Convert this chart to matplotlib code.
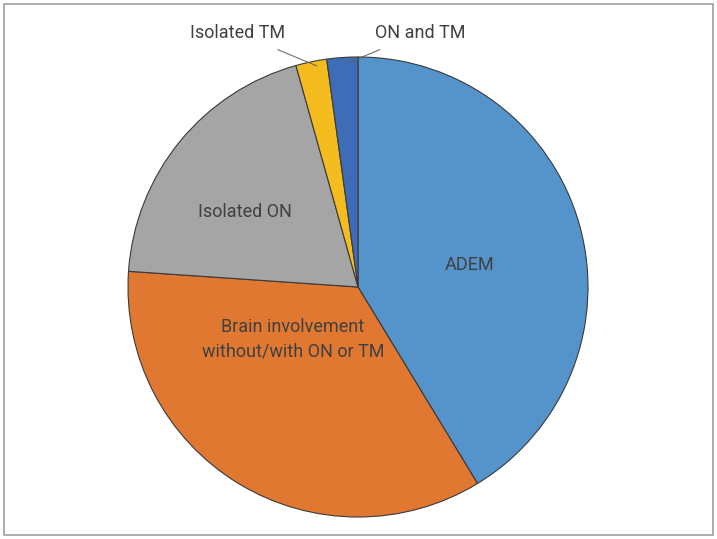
import matplotlib.pyplot as plt
from matplotlib.patches import Rectangle

labels = ['ADEM', 'Brain involvement\nwithout/with ON or TM', 'Isolated ON',
          'Isolated TM', 'ON and TM']
counts = [19, 16, 9, 1, 1]
colors = ['#5593CB', '#E07832', '#A5A5A5', '#F4BC1E', '#3E6CB6']

plt.rcParams['font.family'] = ['Roboto', 'DejaVu Sans']

fig = plt.figure(figsize=(7.17, 5.39), dpi=100)
ax = fig.add_axes([0, 0, 1, 1])

# outer frame
ax.add_patch(Rectangle((3.5, 4.5), 709, 531, fill=False, edgecolor='#A0A0A0', lw=1.2))

cx, cy, r = 358, 252, 230
wedges, _ = ax.pie(counts, colors=colors, startangle=90, counterclock=False,
                   center=(cx, cy), radius=r, frame=True,
                   wedgeprops=dict(edgecolor='#3a3a3a', linewidth=0.8))
ax.set_xlim(0, 717)
ax.set_ylim(0, 539)
ax.set_aspect('equal')
ax.axis('off')

tc = '#404040'
fs = 13
ax.text(470, 539 - 265, labels[0], ha='center', va='center', fontsize=fs, color=tc)
ax.text(293, 539 - 339, labels[1], ha='center', va='center', fontsize=fs, color=tc,
        linespacing=1.5)
ax.text(245, 539 - 212, labels[2], ha='center', va='center', fontsize=fs, color=tc)
ax.annotate(labels[3], xy=(317, 539 - 66), xytext=(238, 539 - 33),
            ha='center', va='center', fontsize=fs, color=tc,
            arrowprops=dict(arrowstyle='-', color='#606060', lw=0.7,
                            shrinkA=9, shrinkB=0))
ax.annotate(labels[4], xy=(350, 539 - 62), xytext=(420, 539 - 33),
            ha='center', va='center', fontsize=fs, color=tc,
            arrowprops=dict(arrowstyle='-', color='#606060', lw=0.7,
                            shrinkA=9, shrinkB=0))

fig.savefig('out.png', dpi=100)
